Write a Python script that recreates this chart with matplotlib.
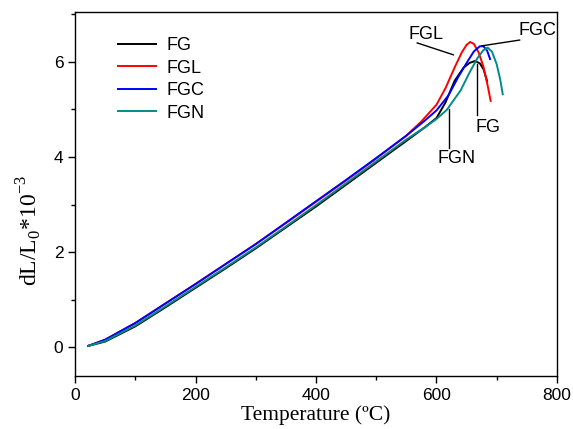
import matplotlib
matplotlib.use("Agg")
import matplotlib.pyplot as plt
from matplotlib.ticker import MultipleLocator

# dilatometry curves, values
temp_common = [22, 50, 100, 150, 200, 250, 300, 350, 400, 450, 500]

fg_common = [0.03, 0.12, 0.44, 0.84, 1.25, 1.66, 2.08, 2.52, 2.96, 3.42, 3.88]
fgl_common = [0.03, 0.16, 0.51, 0.92, 1.33, 1.75, 2.17, 2.61, 3.06, 3.51, 3.97]
fgc_common = [0.03, 0.16, 0.51, 0.92, 1.33, 1.75, 2.17, 2.62, 3.07, 3.52, 3.98]
fgn_common = [0.03, 0.13, 0.46, 0.86, 1.27, 1.68, 2.10, 2.54, 2.99, 3.45, 3.91]

fg_tail_t = [550, 580, 600, 615, 630, 645, 655, 664, 672, 678, 684]
fg_tail_v = [4.34, 4.62, 4.82, 5.15, 5.60, 5.88, 5.98, 6.02, 5.97, 5.85, 5.60]

fgl_tail_t = [550, 575, 600, 615, 630, 642, 650, 656, 662, 670, 678, 685, 690]
fgl_tail_v = [4.45, 4.75, 5.10, 5.45, 5.88, 6.20, 6.36, 6.42, 6.38, 6.20, 5.90, 5.50, 5.18]

fgc_tail_t = [550, 580, 600, 620, 636, 650, 662, 672, 678, 684, 689]
fgc_tail_v = [4.45, 4.76, 4.98, 5.30, 5.68, 5.98, 6.22, 6.33, 6.33, 6.24, 6.06]

fgn_tail_t = [550, 580, 600, 617, 640, 655, 668, 678, 685, 692, 700, 706, 710]
fgn_tail_v = [4.37, 4.62, 4.80, 4.99, 5.40, 5.78, 6.08, 6.25, 6.30, 6.22, 5.95, 5.62, 5.32]

series = [
    ("FG", fg_common, fg_tail_t, fg_tail_v, "black"),
    ("FGL", fgl_common, fgl_tail_t, fgl_tail_v, "red"),
    ("FGC", fgc_common, fgc_tail_t, fgc_tail_v, "blue"),
    ("FGN", fgn_common, fgn_tail_t, fgn_tail_v, "#008b8b"),
]

# label text position, line start, line end (data coords)
callouts = [
    ("FGL", (582, 6.57), (568, 6.40), (628, 6.15)),
    ("FGC", (767, 6.67), (738, 6.46), (676, 6.34)),
    ("FG", (686, 4.62), (667, 5.96), (667, 4.88)),
    ("FGN", (633, 3.98), (620, 5.02), (620, 4.20)),
]

plt.rcParams['font.family'] = ['Liberation Sans', 'DejaVu Sans']

fig = plt.figure(figsize=(5.73, 4.29), dpi=100)
ax = fig.add_axes([0.131, 0.124, 0.841, 0.848])

for name, common, tt, tv, col in series:
    ax.plot(temp_common + tt, common + tv, color=col, lw=1.4, label=name)

for name, txt_xy, p0, p1 in callouts:
    ax.plot([p0[0], p1[0]], [p0[1], p1[1]], color="black", lw=1.0)
    ax.text(txt_xy[0], txt_xy[1], name, ha="center", va="center", fontsize=13)

ax.set_xlim(0, 800)
ax.set_ylim(-0.6, 7.05)
ax.xaxis.set_major_locator(MultipleLocator(200))
ax.xaxis.set_minor_locator(MultipleLocator(100))
ax.yaxis.set_major_locator(MultipleLocator(2))
ax.yaxis.set_minor_locator(MultipleLocator(1))
ax.tick_params(which="major", direction="out", length=5, width=1, labelsize=12.5)
ax.tick_params(which="minor", direction="out", length=3, width=1)
for sp in ax.spines.values():
    sp.set_linewidth(1.0)

ax.set_xlabel("Temperature (ºC)", family="Liberation Serif", fontsize=15.5, labelpad=2)
ax.set_ylabel(r"dL/L$_\mathregular{0}$*10$^\mathregular{-3}$", family="Liberation Serif",
              fontsize=17)
ax.yaxis.set_label_coords(-0.065, 0.40)

ax.legend(loc="upper left", bbox_to_anchor=(0.055, 0.975), frameon=False, fontsize=13,
          handlelength=2.1, handletextpad=0.6, labelspacing=0.3)

fig.savefig("out.png", dpi=100)
